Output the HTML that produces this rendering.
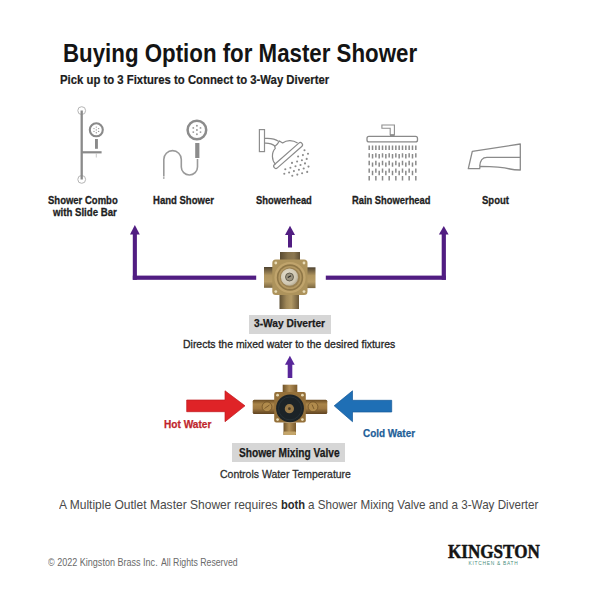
<!DOCTYPE html>
<html><head><meta charset="utf-8"><style>
html,body{margin:0;padding:0;background:#fff;}
body{width:600px;height:600px;position:relative;overflow:hidden;}
.t{position:absolute;white-space:nowrap;line-height:1;transform-origin:0 0;}
b{font-weight:700;}
.box{position:absolute;background:#d6d6d6;}
svg{position:absolute;left:0;top:0;}
</style></head><body>
<div class="box" style="left:249.25px;top:315px;width:82px;height:18.5px"></div>
<div class="box" style="left:232px;top:443px;width:112.5px;height:18.5px"></div>
<svg width="600" height="600" viewBox="0 0 600 600">
<defs>
 <linearGradient id="pv" x1="0" y1="0" x2="1" y2="0">
  <stop offset="0" stop-color="#5e4f33"/><stop offset="0.35" stop-color="#a08858"/><stop offset="0.6" stop-color="#b39a66"/><stop offset="1" stop-color="#6a583a"/>
 </linearGradient>
 <linearGradient id="ph" x1="0" y1="0" x2="0" y2="1">
  <stop offset="0" stop-color="#4e4230"/><stop offset="0.4" stop-color="#b0955f"/><stop offset="0.7" stop-color="#b89d66"/><stop offset="1" stop-color="#7a6640"/>
 </linearGradient>
 <radialGradient id="dring" cx="0.45" cy="0.45" r="0.6">
  <stop offset="0" stop-color="#d2c7a8"/><stop offset="0.55" stop-color="#b09868"/><stop offset="0.8" stop-color="#8c7444"/><stop offset="1" stop-color="#c2a66c"/>
 </radialGradient>
 <linearGradient id="dtop" x1="0" y1="0" x2="1" y2="0">
  <stop offset="0" stop-color="#5a4c32"/><stop offset="0.4" stop-color="#85724c"/><stop offset="0.7" stop-color="#8c7850"/><stop offset="1" stop-color="#5e4f35"/>
 </linearGradient>
 <radialGradient id="silver" cx="0.4" cy="0.4" r="0.7">
  <stop offset="0" stop-color="#e6e0d0"/><stop offset="0.7" stop-color="#cfc7b2"/><stop offset="1" stop-color="#a99e84"/>
 </radialGradient>
 <linearGradient id="mh" x1="0" y1="0" x2="0" y2="1">
  <stop offset="0" stop-color="#6a4b22"/><stop offset="0.3" stop-color="#a98448"/><stop offset="0.6" stop-color="#a07a42"/><stop offset="1" stop-color="#5e4220"/>
 </linearGradient>
 <linearGradient id="mv" x1="0" y1="0" x2="1" y2="0">
  <stop offset="0" stop-color="#6e5228"/><stop offset="0.45" stop-color="#b39058"/><stop offset="1" stop-color="#7a5a2c"/>
 </linearGradient>
</defs>

<!-- ===== icons ===== -->
<g stroke="#8a8a8a" fill="none">
 <!-- slide bar -->
 <circle cx="81.7" cy="110.6" r="3.9" stroke="#b5b5b5" stroke-width="1"/>
 <circle cx="81.7" cy="179.4" r="3.9" stroke="#b5b5b5" stroke-width="1"/>
 <line x1="81.7" y1="110.5" x2="81.7" y2="179.5" stroke-width="2.3"/>
 <line x1="81.7" y1="152.3" x2="101.6" y2="152.3" stroke-width="2.2"/>
 <line x1="96.3" y1="153.5" x2="96.3" y2="157.5" stroke-width="0.8" stroke="#bbb"/>
 <circle cx="96.3" cy="129.8" r="6.5" stroke-width="2.1"/>
 <rect x="95" y="139" width="2.9" height="9.8" fill="#8a8a8a" stroke="none"/>
 <g fill="#9a9a9a" stroke="none">
  <circle cx="96.3" cy="127.1" r="0.7"/><circle cx="96.3" cy="129.9" r="0.7"/><circle cx="96.3" cy="132.8" r="0.7"/>
  <circle cx="94" cy="128.6" r="0.7"/><circle cx="98.6" cy="128.6" r="0.7"/><circle cx="94" cy="131.4" r="0.7"/><circle cx="98.6" cy="131.4" r="0.7"/>
 </g>

 <!-- hand shower -->
 <circle cx="196.9" cy="130" r="9.3" stroke-width="2.5" stroke="#8c8c8c"/>
 <rect x="195.2" y="143" width="4.2" height="15" fill="#8c8c8c" stroke="none"/>
 <path d="M197.5,159 L197.5,166.9 A8.1,8.1 0 0 1 181.3,166.9 L181.3,159.4 A8.75,8.75 0 0 0 163.8,159.4 L163.8,176.5" stroke-width="1.6" stroke="#9a9a9a"/>
 <circle cx="163.8" cy="178" r="0.9" fill="#aaa" stroke="none"/>
 <g fill="#9a9a9a" stroke="none">
  <circle cx="196.9" cy="130" r="0.95"/><circle cx="196.9" cy="125.8" r="0.95"/><circle cx="196.9" cy="134.2" r="0.95"/>
  <circle cx="193.3" cy="127.9" r="0.95"/><circle cx="200.5" cy="127.9" r="0.95"/><circle cx="193.3" cy="132.1" r="0.95"/><circle cx="200.5" cy="132.1" r="0.95"/>
 </g>

 <!-- showerhead -->
 <rect x="259.4" y="129.6" width="5.1" height="22" stroke-width="1.2" stroke="#8e8e8e"/>
 <path d="M264.5,138.4 C270,138 275,138.6 278.6,141.4" stroke-width="1.2"/>
 <path d="M264.5,143.2 C268.5,143 272,143.6 275.2,146.2" stroke-width="1.2"/>
 <path d="M275.6,164.4 C271.6,160.5 271.2,152.6 275.3,148.3 L274.6,146.6 L277.6,143.8 L279.4,140.9 L282.6,143 C286.5,140 292.5,139.6 297.6,143" stroke-width="1.2" stroke-linejoin="round"/>
 <g transform="translate(288.1,155.5) rotate(-41.3)">
  <rect x="-18.4" y="-2.2" width="36.8" height="4.4" rx="2.2" stroke-width="1.2"/>
 </g>
 <g fill="#8c8c8c" stroke="none"><circle cx="304.5" cy="150.3" r="1.05"/><circle cx="308" cy="153.8" r="1.05"/><circle cx="302.9" cy="155.1" r="1.05"/><circle cx="298.1" cy="156.5" r="1.05"/><circle cx="306.7" cy="158.9" r="1.05"/><circle cx="301.9" cy="160.2" r="1.05"/><circle cx="297.1" cy="161.5" r="1.05"/><circle cx="292" cy="162.9" r="1.05"/><circle cx="305" cy="163.4" r="1.05"/><circle cx="300.5" cy="165" r="1.05"/><circle cx="295.5" cy="166.3" r="1.05"/><circle cx="290.4" cy="167.7" r="1.05"/><circle cx="285.3" cy="169.3" r="1.05"/><circle cx="308.5" cy="166.6" r="1.05"/><circle cx="303.7" cy="168.5" r="1.05"/><circle cx="298.9" cy="169.8" r="1.05"/><circle cx="293.9" cy="171.1" r="1.05"/><circle cx="289.1" cy="172.5" r="1.05"/><circle cx="284.3" cy="173.8" r="1.05"/><circle cx="307.2" cy="171.9" r="1.05"/><circle cx="302.1" cy="173.3" r="1.05"/><circle cx="297.3" cy="174.6" r="1.05"/><circle cx="292.3" cy="175.7" r="1.05"/></g>

 <!-- rain showerhead -->
 <path d="M381.9,125 L394.4,125 L394.4,134.8 L390.2,134.8 L390.2,128.2 L381.9,128.2 Z" stroke-width="1.1" stroke="#8e8e8e"/>
 <rect x="390" y="134.5" width="4.6" height="2" fill="#8e8e8e" stroke="none"/>
 <rect x="367" y="136.4" width="50.5" height="5.5" rx="2" stroke-width="1.3" stroke="#8a8a8a"/>
 <g id="drops" stroke="#8a8a8a" stroke-width="1.5">
  <line x1="369.20" y1="145.6" x2="369.20" y2="180.4" stroke-dasharray="4.4 3.2"/>
  <line x1="372.53" y1="145.6" x2="372.53" y2="177" stroke-dasharray="4.4 4"/>
  <line x1="375.86" y1="145.6" x2="375.86" y2="180.4" stroke-dasharray="4.4 3.2"/>
  <line x1="379.19" y1="145.6" x2="379.19" y2="177" stroke-dasharray="4.4 4"/>
  <line x1="382.52" y1="145.6" x2="382.52" y2="180.4" stroke-dasharray="4.4 3.2"/>
  <line x1="385.85" y1="145.6" x2="385.85" y2="177" stroke-dasharray="4.4 4"/>
  <line x1="389.18" y1="145.6" x2="389.18" y2="180.4" stroke-dasharray="4.4 3.2"/>
  <line x1="392.51" y1="145.6" x2="392.51" y2="177" stroke-dasharray="4.4 4"/>
  <line x1="395.84" y1="145.6" x2="395.84" y2="180.4" stroke-dasharray="4.4 3.2"/>
  <line x1="399.17" y1="145.6" x2="399.17" y2="177" stroke-dasharray="4.4 4"/>
  <line x1="402.50" y1="145.6" x2="402.50" y2="180.4" stroke-dasharray="4.4 3.2"/>
  <line x1="405.83" y1="145.6" x2="405.83" y2="177" stroke-dasharray="4.4 4"/>
  <line x1="409.16" y1="145.6" x2="409.16" y2="180.4" stroke-dasharray="4.4 3.2"/>
  <line x1="412.49" y1="145.6" x2="412.49" y2="177" stroke-dasharray="4.4 4"/>
  <line x1="415.82" y1="145.6" x2="415.82" y2="180.4" stroke-dasharray="4.4 3.2"/>
 </g>

 <!-- spout -->
 <path d="M472.3,151.3 L520.3,144 L520.3,170 C516,170 513,169.8 510,169 C503,167 493,166.4 480,166.4 L479.7,168.7 L468.3,168.7 Z" stroke-width="1.3" stroke="#8a8a8a" stroke-linejoin="round"/>
 <path d="M479.7,166.4 C480,161 482,157.3 487,157.3 L520.3,157.3" stroke-width="1.3" stroke="#8a8a8a"/>
</g>

<!-- ===== purple arrows ===== -->
<g fill="#511d82">
 <rect x="132.8" y="233" width="4.1" height="46.8"/>
 <rect x="132.8" y="275.6" width="123.4" height="4.2"/>
 <polygon points="130,234.4 134.85,224.9 139.8,234.4"/>
 <rect x="325.8" y="275.6" width="120.1" height="4.2"/>
 <rect x="441.7" y="233" width="4.2" height="46.8"/>
 <polygon points="438.9,234.4 443.8,225.9 448.6,234.4"/>
 <rect x="288" y="234" width="4" height="13.5"/>
 <polygon points="285,235 290,225.8 295,235"/>
</g>
<g fill="#58269a">
 <rect x="287.7" y="364" width="4.6" height="14"/>
 <polygon points="285,364.7 289.9,355.7 294.7,364.7"/>
</g>

<!-- ===== diverter ===== -->
<g>
 <rect x="280" y="252" width="20" height="10" fill="url(#dtop)"/>
 <rect x="279.5" y="292" width="19.5" height="17" fill="url(#pv)"/>
 <rect x="264" y="267" width="9" height="20.8" fill="url(#ph)"/>
 <rect x="307" y="267.3" width="8.5" height="20.8" fill="url(#ph)"/>
 <rect x="272.3" y="259.5" width="35.2" height="35.5" rx="3.5" fill="#ad935c"/>
 <circle cx="275.8" cy="263" r="1.4" fill="#e8dcb8"/><circle cx="304" cy="263" r="1.4" fill="#e8dcb8"/>
 <circle cx="275.8" cy="291.6" r="1.4" fill="#e8dcb8"/><circle cx="304" cy="291.6" r="1.4" fill="#e8dcb8"/>
 <circle cx="290" cy="277.5" r="15.6" fill="#c0a46c"/>
 <circle cx="290" cy="277.5" r="13.2" fill="#8f7747"/>
 <circle cx="290" cy="277.5" r="11.6" fill="#b39862"/>
 <circle cx="290" cy="277.5" r="10" fill="#9a8152"/>
 <circle cx="289.5" cy="277.2" r="8.6" fill="url(#silver)"/>
 <circle cx="289.5" cy="277" r="4" fill="#9c9480" stroke="#5e5848" stroke-width="0.9"/>
 <path d="M287.8,277.6 L291,275.8" stroke="#2e2c28" stroke-width="1.2"/>
</g>

<!-- ===== mixing valve ===== -->
<g>
 <rect x="282.7" y="384.7" width="14.6" height="9" fill="url(#mv)"/>
 <rect x="252.7" y="399.8" width="74.6" height="14.3" rx="1.5" fill="url(#mh)"/>
 <rect x="274.2" y="392" width="31.6" height="30.6" rx="2" fill="#94703a"/>
 <circle cx="277.6" cy="395.2" r="1.4" fill="#e8dab4"/><circle cx="302.4" cy="395.2" r="1.4" fill="#e8dab4"/>
 <circle cx="277.6" cy="419.6" r="1.4" fill="#e8dab4"/><circle cx="302.4" cy="419.6" r="1.4" fill="#e8dab4"/>
 <circle cx="267" cy="406.8" r="4.9" fill="#b18b4c" stroke="#6e5026" stroke-width="0.8"/>
 <circle cx="313" cy="406.8" r="4.9" fill="#b18b4c" stroke="#6e5026" stroke-width="0.8"/>
 <path d="M264.5,408.5 L269.5,405 M312,404.5 L314,409" stroke="#6e5026" stroke-width="0.8"/>
 <rect x="283.5" y="422.5" width="12.5" height="12.5" fill="url(#mv)"/>
 <rect x="283.5" y="431.5" width="12.5" height="3.5" rx="1" fill="#c4a56a"/>
 <circle cx="290" cy="408.4" r="13.9" fill="#1c2327"/>
 <circle cx="290" cy="408.4" r="11.5" fill="none" stroke="#263036" stroke-width="1"/>
 <circle cx="289.4" cy="408.7" r="4.6" fill="#9a7a48"/>
 <circle cx="289.4" cy="408.7" r="1.4" fill="#4a3a24"/>
</g>

<!-- red arrow -->
<polygon fill="#df2327" stroke="#c01a1e" stroke-width="0.7" points="186.7,400 225,400 225,390.8 245,405.8 225,421.7 225,411.7 186.7,411.7"/>
<!-- blue arrow -->
<polygon fill="#1f6fb5" stroke="#14599a" stroke-width="0.7" points="391.7,400.3 352.5,400.3 352.5,390.8 334.2,405.8 352.5,421.7 352.5,412 391.7,412"/>
</svg>

<div class="t" id="title" style="left:62.55px;top:41.01px;font-size:25.15px;color:#141414;font-family:'Liberation Sans', sans-serif;font-weight:700;transform:scaleX(0.8864);">Buying Option for Master Shower</div>
<div class="t" id="sub" style="left:60.08px;top:74.29px;font-size:12.35px;color:#1c1c1c;font-family:'Liberation Sans', sans-serif;font-weight:700;transform:scaleX(0.9185);-webkit-text-stroke:0.2px currentColor;">Pick up to 3 Fixtures to Connect to 3-Way Diverter</div>
<div class="t" id="l1a" style="left:48.45px;top:195.48px;font-size:11.48px;color:#1e1e1e;font-family:'Liberation Sans', sans-serif;font-weight:700;transform:scaleX(0.8286);-webkit-text-stroke:0.3px currentColor;">Shower Combo</div>
<div class="t" id="l1b" style="left:53.30px;top:207.20px;font-size:11.34px;color:#1e1e1e;font-family:'Liberation Sans', sans-serif;font-weight:700;transform:scaleX(0.8526);-webkit-text-stroke:0.3px currentColor;">with Slide Bar</div>
<div class="t" id="l2" style="left:152.72px;top:195.48px;font-size:11.48px;color:#1e1e1e;font-family:'Liberation Sans', sans-serif;font-weight:700;transform:scaleX(0.8315);-webkit-text-stroke:0.3px currentColor;">Hand Shower</div>
<div class="t" id="l3" style="left:256.00px;top:195.48px;font-size:11.48px;color:#1e1e1e;font-family:'Liberation Sans', sans-serif;font-weight:700;transform:scaleX(0.8191);-webkit-text-stroke:0.3px currentColor;">Showerhead</div>
<div class="t" id="l4" style="left:352.46px;top:195.48px;font-size:11.48px;color:#1e1e1e;font-family:'Liberation Sans', sans-serif;font-weight:700;transform:scaleX(0.8156);-webkit-text-stroke:0.3px currentColor;">Rain Showerhead</div>
<div class="t" id="l5" style="left:482.45px;top:195.48px;font-size:11.48px;color:#1e1e1e;font-family:'Liberation Sans', sans-serif;font-weight:700;transform:scaleX(0.8313);-webkit-text-stroke:0.3px currentColor;">Spout</div>
<div class="t" id="div" style="left:254.43px;top:318.20px;font-size:11.34px;color:#1a1a1a;font-family:'Liberation Sans', sans-serif;font-weight:700;transform:scaleX(0.9000);-webkit-text-stroke:0.25px currentColor;">3-Way Diverter</div>
<div class="t" id="dirs" style="left:183.41px;top:338.88px;font-size:10.68px;color:#262626;font-family:'Liberation Sans', sans-serif;font-weight:400;-webkit-text-stroke:0.3px currentColor;transform:scaleX(0.9801);">Directs the mixed water to the desired fixtures</div>
<div class="t" id="hot" style="left:164.44px;top:417.65px;font-size:11.63px;color:#c0242c;font-family:'Liberation Sans', sans-serif;font-weight:700;transform:scaleX(0.8704);-webkit-text-stroke:0.25px currentColor;">Hot Water</div>
<div class="t" id="cold" style="left:363.44px;top:426.90px;font-size:11.63px;color:#225e98;font-family:'Liberation Sans', sans-serif;font-weight:700;transform:scaleX(0.8541);-webkit-text-stroke:0.25px currentColor;">Cold Water</div>
<div class="t" id="smv" style="left:239.00px;top:447.61px;font-size:11.92px;color:#1a1a1a;font-family:'Liberation Sans', sans-serif;font-weight:700;transform:scaleX(0.8542);-webkit-text-stroke:0.25px currentColor;">Shower Mixing Valve</div>
<div class="t" id="ctl" style="left:220.49px;top:467.97px;font-size:11.75px;color:#2e2e2e;font-family:'Liberation Sans', sans-serif;font-weight:400;-webkit-text-stroke:0.3px currentColor;transform:scaleX(0.8911);">Controls Water Temperature</div>
<div class="t" id="bot1" style="left:59.00px;top:498.27px;font-size:13.39px;color:#4a4a4a;font-family:'Liberation Sans', sans-serif;font-weight:400;transform:scaleX(0.8992);">A Multiple Outlet Master Shower requires</div>
<div class="t" id="bot2" style="left:281.27px;top:498.27px;font-size:13.39px;color:#2a2a2a;font-family:'Liberation Sans', sans-serif;font-weight:700;transform:scaleX(0.8321);">both</div>
<div class="t" id="bot3" style="left:307.88px;top:498.27px;font-size:13.39px;color:#4a4a4a;font-family:'Liberation Sans', sans-serif;font-weight:400;transform:scaleX(0.8708);">a Shower Mixing Valve and a 3-Way Diverter</div>
<div class="t" id="copy1" style="left:47.85px;top:556.77px;font-size:11.40px;color:#6a6a6a;font-family:'Liberation Sans', sans-serif;font-weight:400;transform:scaleX(0.7934);">&copy; 2022 Kingston Brass Inc.</div>
<div class="t" id="copy2" style="left:161.47px;top:556.77px;font-size:11.40px;color:#6a6a6a;font-family:'Liberation Sans', sans-serif;font-weight:400;transform:scaleX(0.7657);">All Rights Reserved</div>
<div class="t" id="king" style="left:447.58px;top:542.92px;font-size:18.25px;color:#141414;font-family:'Liberation Serif', serif;font-weight:700;transform:scaleX(0.9364);-webkit-text-stroke:0.45px #141414;">KINGSTON</div>
<div class="t" id="kb" style="left:468.60px;top:562.44px;font-size:4.80px;color:#4a8f7e;font-family:'Liberation Sans', sans-serif;font-weight:400;letter-spacing:0.746px;">KITCHEN &amp; BATH</div>
</body></html>
